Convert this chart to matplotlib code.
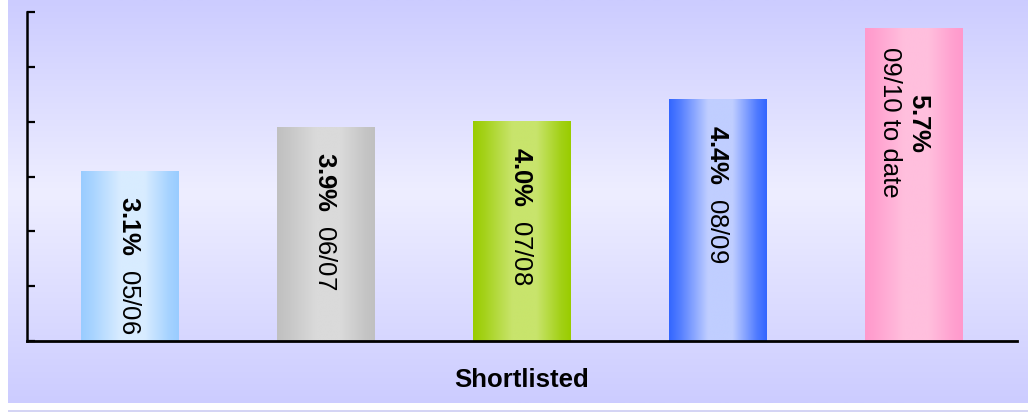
import numpy as np
import matplotlib
matplotlib.use("Agg")
import matplotlib.pyplot as plt
from matplotlib.colors import LinearSegmentedColormap, to_rgb
from matplotlib import transforms

plt.rcParams['font.family'] = ['Liberation Sans', 'DejaVu Sans']
plt.rcParams['mathtext.fontset'] = 'custom'
plt.rcParams['mathtext.bf'] = 'Liberation Sans:bold'
plt.rcParams['mathtext.rm'] = 'Liberation Sans'

# ---- data ----
periods = ["05/06", "06/07", "07/08", "08/09", "09/10 to date"]
values = [3.1, 3.9, 4.0, 4.4, 5.7]
value_labels = ["3.1%", "3.9%", "4.0%", "4.4%", "5.7%"]
axis_title = "Shortlisted"
y_ticks = [0, 1, 2, 3, 4, 5, 6]

# ---- styles ----
edge_colors = ["#99ccff", "#c0c0c0", "#99cc00", "#3366ff", "#ff99cc"]
center_colors = ["#d8ecff", "#dadada", "#c8e46c", "#c0ceff", "#ffbfdd"]

W, H = 1028, 412
fig = plt.figure(figsize=(W / 100, H / 100), dpi=100)
fig.patch.set_facecolor("white")

# background panel gradient
bg = fig.add_axes([8 / W, 9 / H, 1 - 8 / W, 403 / H])
bg.set_axis_off()
bg_cmap = LinearSegmentedColormap.from_list(
    "bg", [(0, "#ccccff"), (0.52, "#eeeeff"), (1, "#ccccff")])
grad = np.linspace(0, 1, 256).reshape(-1, 1)
bg.imshow(grad, cmap=bg_cmap, aspect="auto", extent=[0, 1, 0, 1])
bg.set_xlim(0, 1)
bg.set_ylim(1, 0)

strip = fig.add_axes([8 / W, 0, 1 - 8 / W, 2 / H])
strip.set_facecolor("#d4d4f4")
for s in strip.spines.values():
    s.set_visible(False)
strip.set_xticks([])
strip.set_yticks([])

# main axes
ax = fig.add_axes([27 / W, 71 / H, 990 / W, 329 / H])
ax.patch.set_alpha(0)
x = np.arange(len(values))
bars = ax.bar(x, values, width=0.5, color="none", edgecolor="none", zorder=2)
ax.set_yticks(y_ticks)
ax.set_yticklabels([])
ax.set_xticks([])
ax.tick_params(axis="y", direction="in", length=6, width=1.6, color="black")
for side in ["top", "right"]:
    ax.spines[side].set_visible(False)
ax.spines["left"].set_linewidth(1.8)
ax.spines["bottom"].set_linewidth(2.0)
ax.spines["bottom"].set_zorder(5)

# gradient fills for bars
tt = np.linspace(0, 1, 200)
prof = np.interp(tt, [0, 0.12, 0.4, 0.65, 0.9, 1.0], [0, 0.25, 1, 1, 0.2, 0])
for bar, ec, cc in zip(bars, edge_colors, center_colors):
    e = np.array(to_rgb(ec))
    c = np.array(to_rgb(cc))
    img = e[None, :] + prof[:, None] * (c - e)[None, :]
    img = img[None, :, :]
    x0, y0 = bar.get_x(), bar.get_y()
    w, h = bar.get_width(), bar.get_height()
    ax.imshow(img, aspect="auto", extent=[x0, x0 + w, y0, y0 + h],
              interpolation="bilinear", zorder=2)
ax.set_xlim(-0.527, len(values) - 1 + 0.527)
ax.set_ylim(y_ticks[0], y_ticks[-1])

# labels inside bars
for xi, v, vl, p in zip(x, values, value_labels, periods):
    bold = r"$\mathbf{" + vl.replace("%", r"\%") + "}$"
    if len(p) > 6:
        s = bold + "\n" + p
        off = -19
        xo = -9
    else:
        s = bold + "  " + p
        off = -25
        xo = -1
    trans = ax.transData + transforms.ScaledTranslation(xo / 100, off / 100, fig.dpi_scale_trans)
    ax.text(xi, v, s, rotation=-90, ha="center", va="top", fontsize=18.5,
            multialignment="center", linespacing=1.25, transform=trans, zorder=4)

fig.text(522 / W, (412 - 380) / H, axis_title, ha="center", va="center",
         fontsize=18.5, fontweight="bold")

fig.savefig("out.png", dpi=100)
